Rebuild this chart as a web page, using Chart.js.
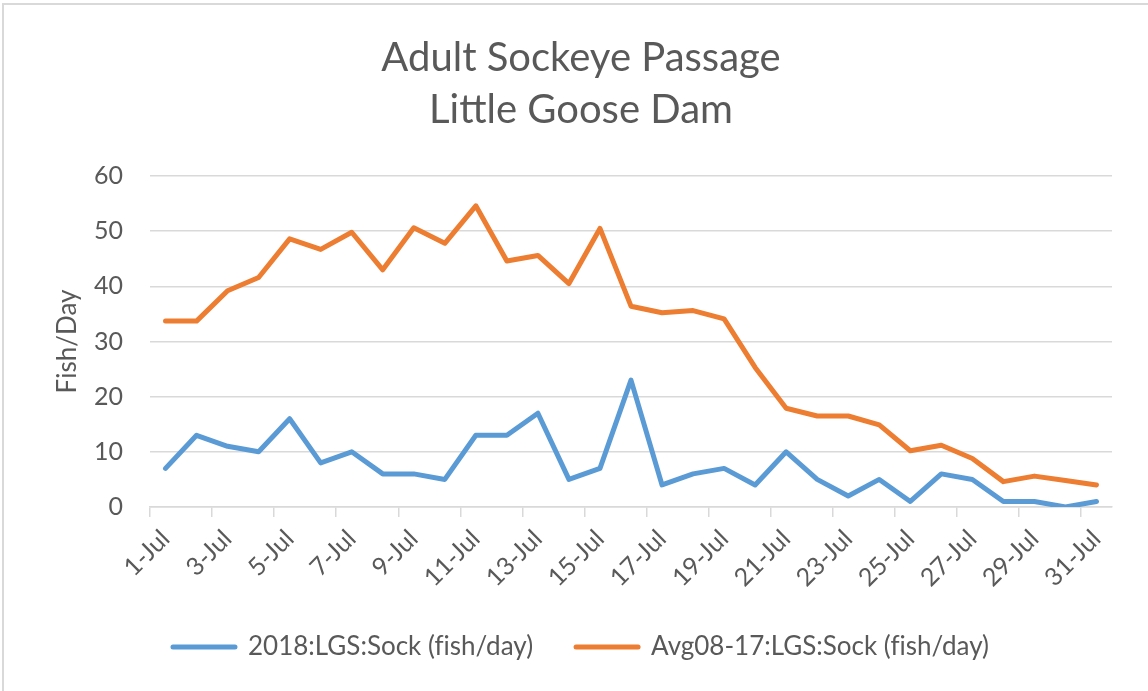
<!DOCTYPE html>
<html>
<head>
<meta charset="utf-8">
<script src="https://cdn.jsdelivr.net/npm/chart.js@4.4.1/dist/chart.umd.min.js"></script>
<style>
    html, body { margin: 0; padding: 0; background: #fff; }
    #wrap { position: relative; width: 1148px; height: 691px; }
    #frame {
        position: absolute; left: 2px; top: 3px; right: 0; bottom: 0;
        border-top: 2px solid #d9d9d9; border-left: 2px solid #d9d9d9;
        pointer-events: none;
    }
</style>
</head>
<body>
<div id="wrap">
    <canvas id="sockeyeChart" width="1148" height="691"></canvas>
    <div id="frame"></div>
</div>
<script>
const days = [];
for (let d = 1; d <= 31; d++) days.push(d + '-Jul');

const yTicks = [0, 10, 20, 30, 40, 50, 60];

const sock2018 = [7, 13, 11, 10, 16, 8, 10, 6, 6, 5, 13, 13, 17, 5, 7, 23, 4, 6, 7, 4, 10, 5, 2, 5, 1, 6, 5, 1, 1, 0, 1];
const sockAvg = [33.7, 33.7, 39.2, 41.6, 48.6, 46.7, 49.8, 43.0, 50.6, 47.8, 54.6, 44.6, 45.6, 40.5, 50.5, 36.4,
    35.2, 35.6, 34.1, 25.3, 17.9, 16.5, 16.5, 14.9, 10.2, 11.2, 8.8, 4.6, 5.6, 4.8, 4.0];

const textColor = '#595959';
const gridColor = '#d9d9d9';
const fontFamily = 'Lato, "Open Sans", sans-serif';

// zero-width non-joiner keeps "fi" from turning into a ligature glyph
const noLig = s => s.replace(/fi/g, 'f\u200Ci');

const ctx = document.getElementById('sockeyeChart').getContext('2d');
new Chart(ctx, {
    type: 'line',
    data: {
        labels: days,
        datasets: [{
            label: noLig('2018:LGS:Sock (fish/day)'),
            data: sock2018,
            borderColor: '#5b9bd5',
            backgroundColor: '#5b9bd5',
            borderWidth: 5,
            borderCapStyle: 'round',
            borderJoinStyle: 'round',
            pointRadius: 0,
            tension: 0
        }, {
            label: noLig('Avg08-17:LGS:Sock (fish/day)'),
            data: sockAvg,
            borderColor: '#ed7d31',
            backgroundColor: '#ed7d31',
            borderWidth: 5,
            borderCapStyle: 'round',
            borderJoinStyle: 'round',
            pointRadius: 0,
            tension: 0
        }]
    },
    options: {
        responsive: false,
        animation: false,
        layout: {
            padding: { left: 50, right: 36, top: 0, bottom: 21 }
        },
        plugins: {
            title: {
                display: true,
                text: ['Adult Sockeye Passage', 'Little Goose Dam'],
                color: textColor,
                font: { family: fontFamily, size: 40, weight: 'normal', lineHeight: 52 / 40 },
                padding: { top: 32, bottom: 40 }
            },
            legend: {
                display: true,
                position: 'bottom',
                labels: {
                    color: textColor,
                    font: { family: fontFamily, size: 26 },
                    boxWidth: 62,
                    boxHeight: 0,
                    padding: 43
                }
            },
            tooltip: { enabled: false }
        },
        scales: {
            x: {
                offset: true,
                afterFit: function (scale) {
                    scale.height = 84;
                },
                grid: {
                    offset: true,
                    drawOnChartArea: false,
                    drawTicks: true,
                    tickLength: 10,
                    lineWidth: 1.5,
                    color: function (c) {
                        return (c.index !== undefined && c.index % 2 === 0) ? gridColor : 'rgba(0,0,0,0)';
                    }
                },
                border: { display: true, color: gridColor, width: 1.5 },
                ticks: {
                    autoSkip: false,
                    minRotation: 45,
                    maxRotation: 45,
                    padding: 7,
                    color: textColor,
                    font: { family: fontFamily, size: 25 },
                    callback: function (value, index) {
                        return index % 2 === 0 ? days[index] : '';
                    }
                }
            },
            y: {
                min: yTicks[0],
                max: yTicks[yTicks.length - 1],
                afterFit: function (scale) {
                    scale.width = 100;
                },
                afterBuildTicks: function (scale) {
                    scale.ticks = yTicks.map(v => ({ value: v }));
                },
                grid: {
                    color: gridColor,
                    lineWidth: 1.5,
                    drawTicks: false
                },
                border: { display: false },
                ticks: {
                    padding: 27,
                    color: textColor,
                    font: { family: fontFamily, size: 25 }
                },
                title: {
                    display: true,
                    text: 'Fish/Day',
                    color: textColor,
                    font: { family: fontFamily, size: 26 },
                    padding: { top: 2, bottom: 10 }
                }
            }
        }
    }
});
</script>
</body>
</html>
